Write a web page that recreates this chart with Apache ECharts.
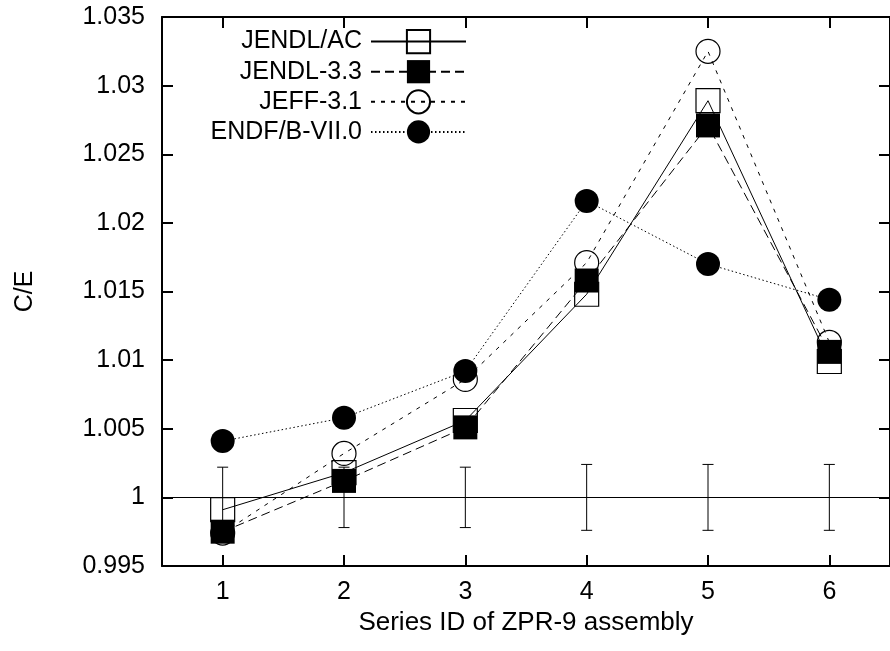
<!DOCTYPE html>
<html>
<head>
<meta charset="utf-8">
<title>C/E for ZPR-9 assemblies</title>
<script src="https://cdn.jsdelivr.net/npm/echarts@6/dist/echarts.min.js"></script>
<style>
  html, body { margin: 0; padding: 0; background: #fff; }
  #chart { width: 890px; height: 651px; }
</style>
</head>
<body>
<div id="chart"></div>
<script>
// Series IDs of the ZPR-9 assembly (x positions)
const seriesIds = [1, 2, 3, 4, 5, 6];
const xTicks = [1, 2, 3, 4, 5, 6];

// Calculated-to-experiment ratios per nuclear data library
const jendlAC  = [0.9991, 1.0018, 1.0056, 1.0148, 1.0289, 1.0099];
const jendl33  = [0.9975, 1.0012, 1.0051, 1.0158, 1.0271, 1.0106];
const jeff31   = [0.9974, 1.0032, 1.0086, 1.0171, 1.0325, 1.0113];
const endfB7   = [1.0041, 1.0058, 1.0092, 1.0216, 1.0170, 1.0144];

// Experimental uncertainty (half width) around C/E = 1
const expError = [0.0022, 0.0022, 0.0022, 0.0024, 0.0024, 0.0024];
const refValue = 1;

const FONT = 'Liberation Sans, Arial, Helvetica, sans-serif';
const BLACK = '#000';

function pairs(vals) {
  return seriesIds.map((x, i) => [x, vals[i]]);
}

const errData = seriesIds.map((x, i) => [x, refValue - expError[i], refValue + expError[i]]);

function lineSeries(name, vals, symbol, filled, dash) {
  return {
    name: name,
    type: 'line',
    data: pairs(vals),
    symbol: symbol,
    symbolSize: 24,
    showSymbol: true,
    showAllSymbol: true,
    lineStyle: { color: BLACK, width: 1, type: dash },
    itemStyle: {
      color: filled ? BLACK : 'rgba(0,0,0,0)',
      borderColor: BLACK,
      borderWidth: filled ? 0 : 1.2
    },
    emphasis: { disabled: true },
    animation: false
  };
}

const axisCommon = {
  type: 'value',
  axisLine: { show: true, onZero: false, lineStyle: { color: BLACK, width: 2 } },
  axisTick: { show: true, inside: true, length: 11, lineStyle: { color: BLACK, width: 2 } },
  splitLine: { show: false }
};

const chart = echarts.init(document.getElementById('chart'), null, { renderer: 'canvas' });

chart.setOption({
  backgroundColor: '#fff',
  animation: false,
  textStyle: { fontFamily: FONT, color: BLACK },
  grid: { left: 162, top: 17, width: 732, height: 549, containLabel: false },
  legend: {
    data: ['JENDL/AC', 'JENDL-3.3', 'JEFF-3.1', 'ENDF/B-VII.0'],
    orient: 'vertical',
    align: 'right',
    right: 423,
    top: 29,
    padding: 0,
    itemWidth: 95,
    itemHeight: 29,
    itemGap: 5,
    textStyle: { fontFamily: FONT, fontSize: 25, color: BLACK, padding: [0, 4, 0, 0] },
    selectedMode: false,
    inactiveColor: BLACK
  },
  xAxis: [
    Object.assign({}, axisCommon, {
      position: 'bottom',
      min: 0.5, max: 6.5,
      name: 'Series ID of ZPR-9 assembly',
      nameLocation: 'middle',
      nameGap: 40,
      nameTextStyle: { fontFamily: FONT, fontSize: 26, color: BLACK },
      axisTick: Object.assign({}, axisCommon.axisTick, { customValues: xTicks }),
      axisLabel: { customValues: xTicks, fontFamily: FONT, fontSize: 25, color: BLACK, margin: 14 }
    }),
    Object.assign({}, axisCommon, {
      position: 'top',
      min: 0.5, max: 6.5,
      axisTick: Object.assign({}, axisCommon.axisTick, { customValues: xTicks }),
      axisLabel: { show: false, customValues: xTicks }
    })
  ],
  yAxis: [
    Object.assign({}, axisCommon, {
      position: 'left',
      min: 0.995, max: 1.035, interval: 0.005,
      name: 'C/E',
      nameLocation: 'middle',
      nameGap: 124,
      nameRotate: 90,
      nameTextStyle: { fontFamily: FONT, fontSize: 25, color: BLACK },
      axisLabel: { fontFamily: FONT, fontSize: 25, color: BLACK, margin: 17 }
    }),
    Object.assign({}, axisCommon, {
      position: 'right',
      min: 0.995, max: 1.035, interval: 0.005,
      axisLabel: { show: false }
    })
  ],
  series: [
    {
      name: 'experiment',
      type: 'custom',
      data: errData,
      encode: { x: 0, y: [1, 2] },
      silent: true,
      renderItem: function (params, api) {
        const x = api.value(0);
        const lo = api.coord([x, api.value(1)]);
        const hi = api.coord([x, api.value(2)]);
        const hw = 5.5;
        const st = { stroke: BLACK, lineWidth: 1 };
        return {
          type: 'group',
          children: [
            { type: 'line', shape: { x1: hi[0], y1: hi[1], x2: lo[0], y2: lo[1] }, style: st },
            { type: 'line', shape: { x1: hi[0] - hw, y1: hi[1], x2: hi[0] + hw, y2: hi[1] }, style: st },
            { type: 'line', shape: { x1: lo[0] - hw, y1: lo[1], x2: lo[0] + hw, y2: lo[1] }, style: st }
          ]
        };
      },
      markLine: {
        silent: true,
        symbol: 'none',
        label: { show: false },
        lineStyle: { color: BLACK, width: 1, type: 'solid' },
        data: [{ yAxis: refValue }]
      }
    },
    lineSeries('JENDL/AC', jendlAC, 'rect', false, 'solid'),
    lineSeries('JENDL-3.3', jendl33, 'rect', true, [9, 5]),
    lineSeries('JEFF-3.1', jeff31, 'circle', false, [4, 6]),
    lineSeries('ENDF/B-VII.0', endfB7, 'circle', true, [1.5, 2.5])
  ]
});
</script>
</body>
</html>
